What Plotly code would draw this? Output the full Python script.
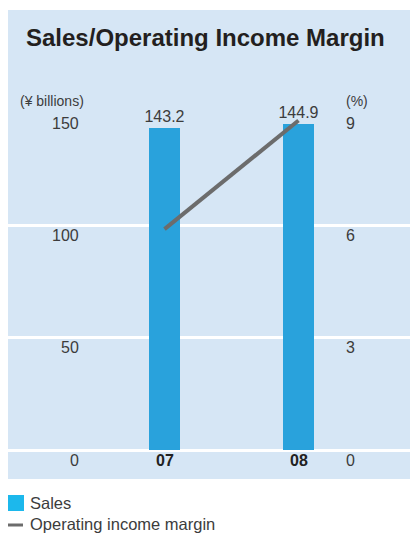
import plotly.graph_objects as go

# ---- data ----
years = ["07", "08"]
sales = [143.2, 144.9]               # ¥ billions
op_margin = [5.9, 8.8]               # %
left_ticks = [0, 50, 100, 150]
right_ticks = [0, 3, 6, 9]
title_text = "Sales/Operating Income Margin"
left_unit = "(¥ billions)"
right_unit = "(%)"
legend_labels = ["Sales", "Operating income margin"]

# ---- layout geometry (pixels) ----
W, H = 410, 536
PL, PR, PT, PB = 8, 410, 113, 450     # plot area in px
FONT = "Liberation Sans, Arial, sans-serif"
BAR_C = "#29a2dc"
LEG_C = "#1cb8ec"
LINE_C = "#6c6c6c"
PANEL_C = "#d6e6f5"
TXT = "#3c3c3c"

def px_x(p):
    return (p - PL) / (PR - PL)

def px_y(p):
    return (PB - p) / (PB - PT)

xs = list(range(len(years)))
unit = 134.0  # px per category step
x0 = -(164.5 - PL) / unit
x1 = x0 + (PR - PL) / unit

fig = go.Figure()
fig.add_trace(go.Bar(
    x=xs, y=sales, width=0.231, marker=dict(color=BAR_C, line=dict(width=0)),
    text=[f"{v:.1f}" for v in sales], textposition="outside", constraintext="none",
    textfont=dict(size=16, color=TXT, family=FONT), cliponaxis=False,
    showlegend=False, yaxis="y",
))
fig.add_trace(go.Scatter(
    x=xs, y=op_margin, mode="lines", line=dict(color=LINE_C, width=4),
    showlegend=False, yaxis="y2", cliponaxis=False,
))

annotations = []
# title
annotations.append(dict(text=f"<b>{title_text}</b>", x=px_x(205.5), y=px_y(37),
                        xref="paper", yref="paper", showarrow=False,
                        xanchor="center", yanchor="middle",
                        font=dict(size=24, color="#231f20", family=FONT)))
# units
annotations.append(dict(text=left_unit, x=px_x(18), y=px_y(101), xref="paper", yref="paper",
                        showarrow=False, xanchor="left", yanchor="middle",
                        font=dict(size=14, color=TXT, family=FONT)))
annotations.append(dict(text=right_unit, x=px_x(344), y=px_y(101), xref="paper", yref="paper",
                        showarrow=False, xanchor="left", yanchor="middle",
                        font=dict(size=14, color=TXT, family=FONT)))
# left tick labels (below gridlines)
for v in left_ticks:
    annotations.append(dict(text=str(v), x=px_x(81), y=v, xref="paper", yref="y",
                            yshift=-10, showarrow=False, xanchor="right", yanchor="middle",
                            font=dict(size=16, color=TXT, family=FONT)))
# right tick labels
for v in right_ticks:
    annotations.append(dict(text=str(v), x=px_x(344), y=v, xref="paper", yref="y2",
                            yshift=-10, showarrow=False, xanchor="left", yanchor="middle",
                            font=dict(size=16, color=TXT, family=FONT)))
# category labels
for i, yr in enumerate(years):
    annotations.append(dict(text=f"<b>{yr}</b>", x=xs[i], y=0, xref="x", yref="y",
                            yshift=-10, showarrow=False, xanchor="center", yanchor="middle",
                            font=dict(size=16, color="#222222", family=FONT)))
# legend texts
annotations.append(dict(text=legend_labels[0], x=px_x(28), y=px_y(503), xref="paper", yref="paper",
                        showarrow=False, xanchor="left", yanchor="middle",
                        font=dict(size=16.5, color=TXT, family=FONT)))
annotations.append(dict(text=legend_labels[1], x=px_x(28), y=px_y(524), xref="paper", yref="paper",
                        showarrow=False, xanchor="left", yanchor="middle",
                        font=dict(size=16.5, color=TXT, family=FONT)))

shapes = [
    dict(type="rect", xref="paper", yref="paper", x0=px_x(8), x1=px_x(412),
         y0=px_y(479), y1=px_y(10), fillcolor=PANEL_C, line=dict(width=0), layer="below"),
    dict(type="rect", xref="paper", yref="paper", x0=px_x(8), x1=px_x(24),
         y0=px_y(511), y1=px_y(495), fillcolor=LEG_C, line=dict(width=0)),
    dict(type="line", xref="paper", yref="paper", x0=px_x(8), x1=px_x(23),
         y0=px_y(525), y1=px_y(525), line=dict(color=LINE_C, width=3)),
]

fig.update_layout(
    width=W, height=H,
    margin=dict(l=PL, r=W - PR, t=PT, b=H - PB, pad=0),
    paper_bgcolor="white", plot_bgcolor="rgba(0,0,0,0)",
    showlegend=False,
    xaxis=dict(range=[x0, x1], showgrid=False, zeroline=False, showticklabels=False,
               ticks="", showline=False, fixedrange=True),
    yaxis=dict(range=[0, 150], tickvals=left_ticks, showticklabels=False, ticks="",
               showgrid=True, gridcolor="white", gridwidth=3,
               zeroline=True, zerolinecolor="white", zerolinewidth=3, showline=False),
    yaxis2=dict(range=[0, 9], overlaying="y", side="right", showgrid=False,
                zeroline=False, showticklabels=False, ticks="", showline=False),
    annotations=annotations, shapes=shapes,
    bargap=0,
)

fig.write_html("out.html")
